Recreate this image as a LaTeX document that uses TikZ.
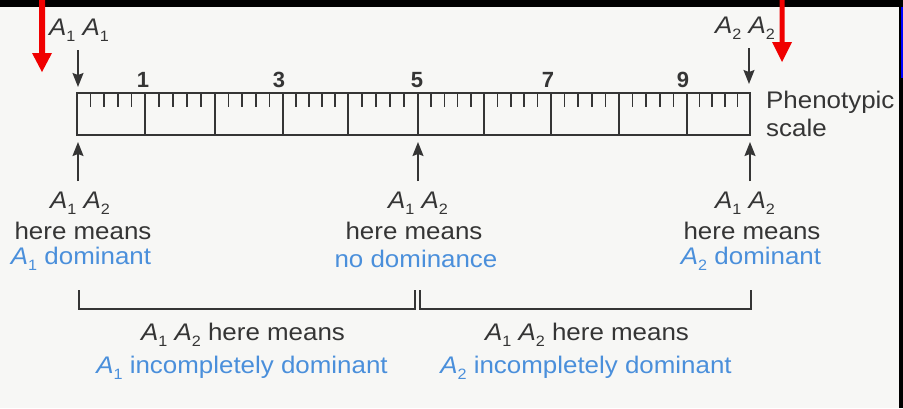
\documentclass[tikz,border=0pt]{standalone}
\usepackage{fontspec}
\setmainfont{Liberation Sans}
\usepackage{graphicx}
\usetikzlibrary{arrows.meta}
\definecolor{bg}{HTML}{F7F7F5}
\definecolor{ink}{HTML}{353535}
\definecolor{blu}{HTML}{4A8FDB}
\definecolor{redd}{HTML}{F00000}
\newcommand\Al[1]{{\itshape A}\raisebox{-0.25em}{\fontsize{15}{15}\selectfont #1}}
\newcommand\hs[1]{\scalebox{1.08}[1]{#1}}
\begin{document}
\begin{tikzpicture}[x=1pt,y=-1pt,
  txt/.style={text=ink, font=\fontsize{24}{28}\selectfont, inner sep=0pt},
  btxt/.style={txt, text=blu},
  num/.style={text=ink, font=\fontsize{22}{24}\selectfont\bfseries, inner sep=0pt},
  rl/.style={draw=ink, line width=1.8pt},
  tick/.style={draw=ink, line width=1.6pt},
  arr/.style={draw=ink, line width=1.6pt, -{Stealth[length=14pt,width=11pt,inset=2pt]}},
  brk/.style={draw=ink, line width=1.5pt}
]
\useasboundingbox (0,0) rectangle (903,408);
\fill[bg] (0,0) rectangle (903,408);
\fill[black] (0,0) rectangle (903,7);
\fill[black] (899,0) rectangle (903,408);
\fill[blue] (901,7) rectangle (903,78);

% ruler
\node[rl, minimum width=673pt, minimum height=42pt, inner sep=0pt] (ruler) at (413.5,114) {};
\foreach \a/\b in {77/145,145/215,215/283,283/348,348/418,418/484,484/551,551/619,619/687,687/750} {
  \draw[rl] (\b,93) -- (\b,135);
  \foreach \m in {1,...,4}
    \draw[tick] ({\a+(\b-\a)*\m/5},93) -- ++(0,14);
}

% numbers
\node[num] (n1) at (143,80) {1};
\node[num] (n3) at (279,80) {3};
\node[num] (n5) at (417,80) {5};
\node[num] (n7) at (548,80) {7};
\node[num] (n9) at (683,80) {9};

% top labels and arrows
\node[txt] (tl) at (79,30) {\hs{\Al{1} \Al{1}}};
\node[txt] (tr) at (745,28) {\hs{\Al{2} \Al{2}}};
\coordinate (d1s) at (78,50); \coordinate (d1e) at (78,87);
\coordinate (d2s) at (749,48); \coordinate (d2e) at (749,84);
\draw[arr] (d1s) -- (d1e);
\draw[arr] (d2s) -- (d2e);

\node[txt, anchor=west, align=left] (ph) at (766,114) {\hs{Phenotypic}\\\hs{scale}};

% up arrows
\coordinate (u1s) at (78,181); \coordinate (u1e) at (78,142);
\coordinate (u2s) at (418,181); \coordinate (u2e) at (418,142);
\coordinate (u3s) at (750,181); \coordinate (u3e) at (750,142);
\draw[arr] (u1s) -- (u1e);
\draw[arr] (u2s) -- (u2e);
\draw[arr] (u3s) -- (u3e);

% labels under arrows
\node[txt] (la) at (80,203) {\hs{\Al{1} \Al{2}}};
\node[txt] (lb) at (83,231) {\hs{here means}};
\node[btxt] (lc) at (81,259) {\hs{\Al{1} dominant}};
\node[txt] (ma) at (418,203) {\hs{\Al{1} \Al{2}}};
\node[txt] (mb) at (414,231) {\hs{here means}};
\node[btxt] (mc) at (416,259) {\hs{no dominance}};
\node[txt] (ra) at (745,203) {\hs{\Al{1} \Al{2}}};
\node[txt] (rb) at (752,231) {\hs{here means}};
\node[btxt] (rc) at (751,259) {\hs{\Al{2} dominant}};

% brackets
\draw[brk] (79,290) -- (79,309) -- (415,309) -- (415,290);
\draw[brk] (420,290) -- (420,309) -- (751,309) -- (751,290);

\node[txt] (ba) at (243,335) {\hs{\Al{1} \Al{2} here means}};
\node[btxt] (bb) at (242,368) {\hs{\Al{1} incompletely dominant}};
\node[txt] (ca) at (587,335) {\hs{\Al{1} \Al{2} here means}};
\node[btxt] (cb) at (586,368) {\hs{\Al{2} incompletely dominant}};

% red arrows
\fill[redd] (39,0) -- (45,0) -- (45,53) -- (52,53) -- (42,72) -- (32,53) -- (39,53) -- cycle;
\fill[redd] (779.5,0) -- (784.5,0) -- (784.5,42) -- (792,42) -- (782,62) -- (772,42) -- (779.5,42) -- cycle;
\end{tikzpicture}
\end{document}
